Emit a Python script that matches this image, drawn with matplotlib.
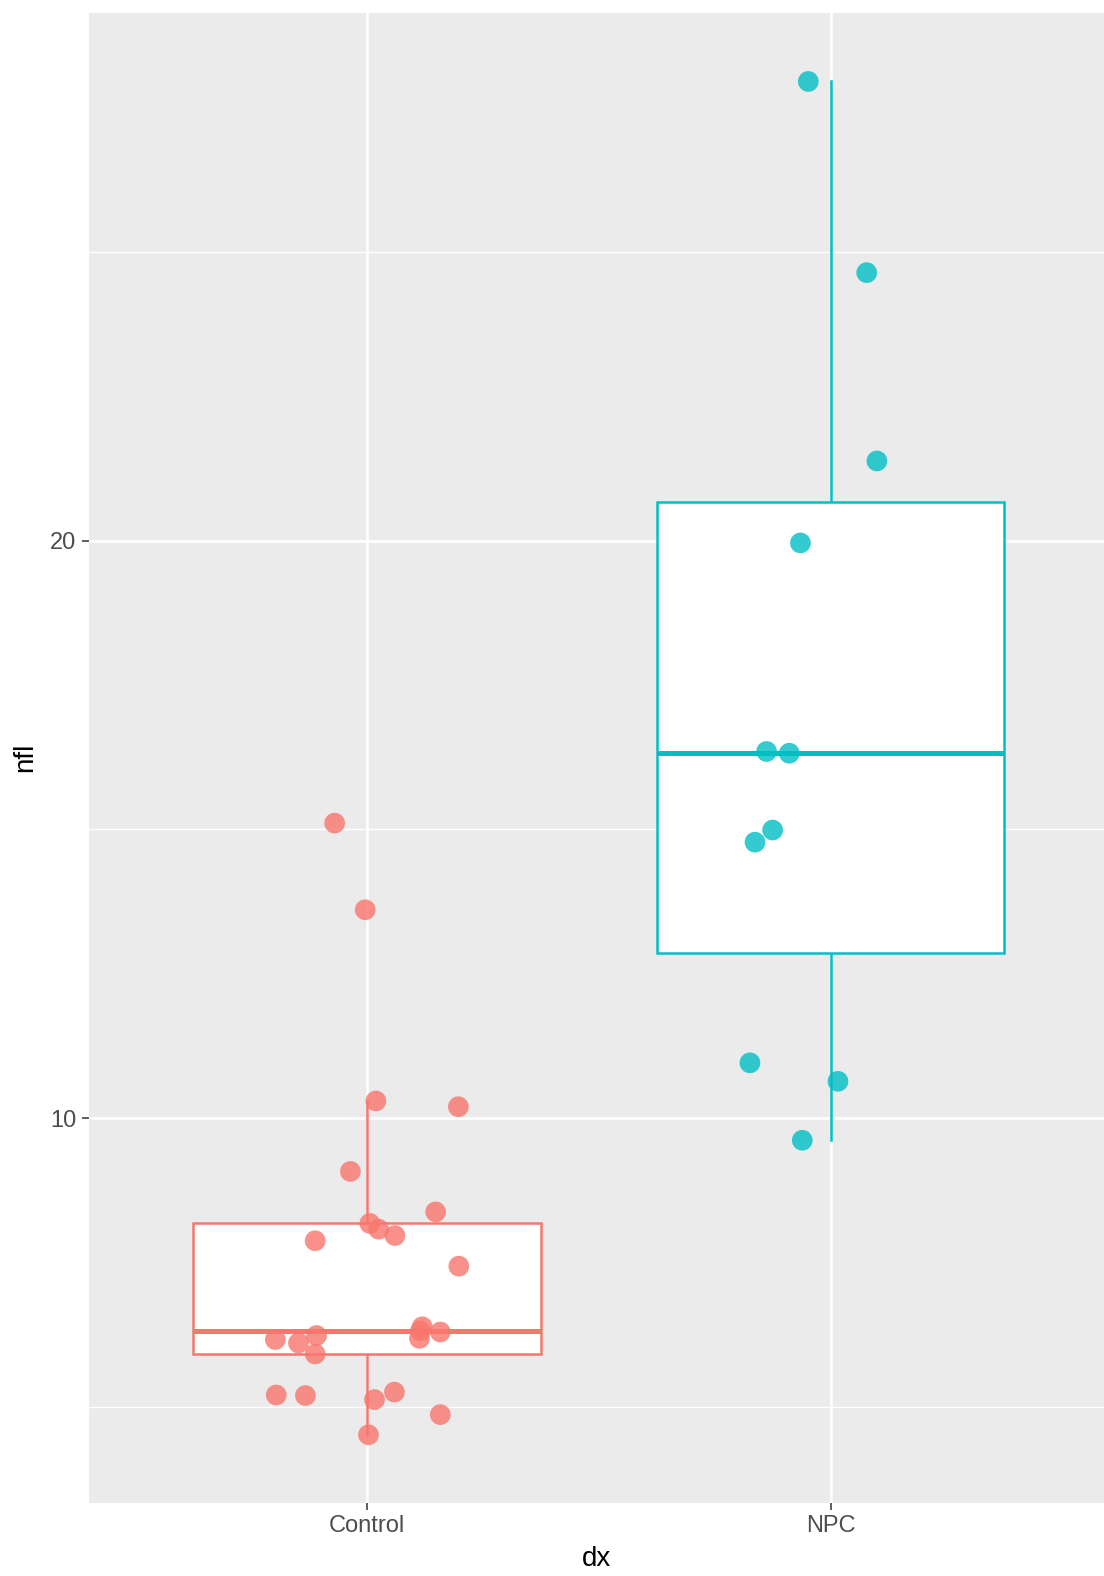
import matplotlib
matplotlib.use("Agg")
import matplotlib.pyplot as plt
import numpy as np

plt.rcParams["font.family"] = ["Liberation Sans", "DejaVu Sans"]

# -----------------------------------------------------------------------------
# Data
# -----------------------------------------------------------------------------
groups = ["Control", "NPC"]
colors = ["#F8766D", "#00BFC4"]

control_nfl = [15.11, 13.61, 10.30, 10.20, 9.08, 8.38, 8.18, 8.08, 7.97, 7.88,
               7.44, 6.17, 6.11, 6.24, 5.92, 6.39, 6.32, 6.19, 6.30, 5.21,
               5.20, 5.13, 5.26, 4.87, 4.52]
control_jitter = [-0.070, -0.004, 0.019, 0.197, -0.036, 0.148, 0.006, 0.025, 0.060, -0.112,
                  0.198, -0.198, -0.148, -0.109, -0.112, 0.119, 0.115, 0.113, 0.158, -0.196,
                  -0.133, 0.016, 0.059, 0.158, 0.003]

npc_nfl = [27.95, 24.64, 21.38, 19.96, 16.35, 16.32, 14.99, 14.78, 10.96, 10.64, 9.62]
npc_jitter = [-0.048, 0.078, 0.100, -0.065, -0.138, -0.089, -0.125, -0.163, -0.174, 0.016, -0.061]

values = [control_nfl, npc_nfl]
jitters = [control_jitter, npc_jitter]

y_major = [10, 20]
y_minor = [5, 15, 25]

# -----------------------------------------------------------------------------
# Figure
# -----------------------------------------------------------------------------
W, H = 1104, 1576
fig = plt.figure(figsize=(W / 100, H / 100), dpi=100)
ax = fig.add_axes([89 / W, (H - 1502.7) / H, (1104 - 89) / W, (1502.7 - 12.7) / H])
ax.set_facecolor("#EBEBEB")

pos = np.arange(1, len(groups) + 1)

# grid
for y in y_minor:
    ax.axhline(y, color="white", lw=1.0, zorder=0)
for y in y_major:
    ax.axhline(y, color="white", lw=1.9, zorder=0)
for x in pos:
    ax.axvline(x, color="white", lw=1.9, zorder=0)

# boxes
bp = ax.boxplot(values, positions=pos, widths=0.75, patch_artist=True,
                showfliers=False, showcaps=False, whis=1.5)
for i, c in enumerate(colors):
    bp["boxes"][i].set(facecolor="white", edgecolor=c, linewidth=1.8, zorder=2)
    bp["medians"][i].set(color=c, linewidth=3.6, zorder=2.5)
    for w in bp["whiskers"][2 * i:2 * i + 2]:
        w.set(color=c, linewidth=1.8, zorder=1.5)

# jittered points
for i, (v, j, c) in enumerate(zip(values, jitters, colors)):
    ax.scatter(pos[i] + np.array(j), v, s=222, color=c, alpha=0.8,
               edgecolors="none", zorder=3)

ax.set_xlim(0.4, 2.59)
ax.set_ylim(3.345, 29.14)
ax.set_xticks(pos)
ax.set_xticklabels(groups)
ax.set_yticks(y_major)
ax.set_yticks(y_minor, minor=True)
ax.tick_params(axis="y", which="minor", length=0)
ax.tick_params(which="major", length=5, width=1.1, color="#333333",
               labelsize=17, labelcolor="#4D4D4D", pad=4)

for s in ax.spines.values():
    s.set_visible(False)

ax.set_xlabel("dx", fontsize=20, labelpad=6)
ax.set_ylabel("nfl", fontsize=20, labelpad=9)

fig.savefig("out.png", dpi=100)
